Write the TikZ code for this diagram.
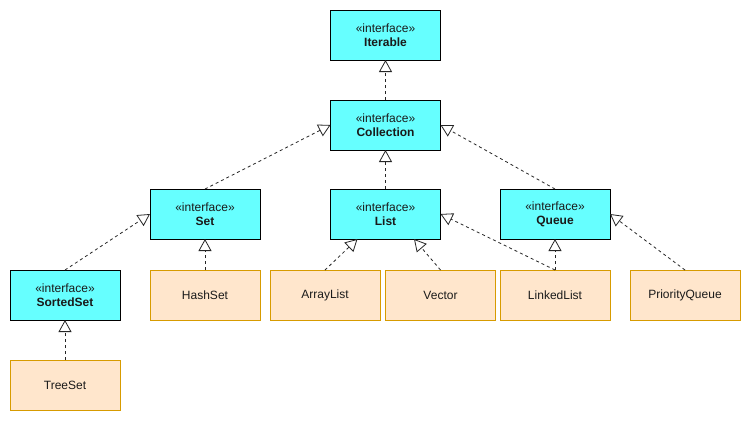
\documentclass[tikz,border=0pt]{standalone}
\usepackage{fontspec}
\setmainfont{Liberation Sans}
\usetikzlibrary{arrows.meta}
\definecolor{ifill}{HTML}{66FFFF}
\definecolor{cfill}{HTML}{FFE6CC}
\definecolor{cdraw}{HTML}{D79B00}
\definecolor{txt}{HTML}{1A1A1A}
\begin{document}
\begin{tikzpicture}[x=1pt,y=-1pt,
  box/.style={rectangle,minimum width=110pt,minimum height=50pt,inner sep=0pt,outer sep=0pt,
    font=\fontsize{12pt}{14pt}\selectfont,text=txt,align=center},
  iface/.style={box,fill=ifill,draw=black,line width=1pt},
  cls/.style={box,fill=cfill,draw=cdraw,line width=1pt},
  impl/.style={draw=black!85,line width=0.8pt,dash pattern=on 3pt off 3pt,
    -{Triangle[open,width=13pt,length=12pt,line width=0.8pt,fill=white]}}
]
\fill[white] (0,0) rectangle (751,421);
\useasboundingbox (0,0) rectangle (751,421);

\node[iface] (iterable)   at (385.5,35)  {«interface»\\\textbf{Iterable}};
\node[iface] (collection) at (385.5,125) {«interface»\\\textbf{Collection}};
\node[iface] (set)        at (205,214)   {«interface»\\\textbf{Set}};
\node[iface] (list)       at (385.5,214) {«interface»\\\textbf{List}};
\node[iface] (queue)      at (555,214)   {«interface»\\\textbf{Queue}};
\node[iface] (sortedset)  at (65,295)    {«interface»\\\textbf{SortedSet}};
\node[cls]   (hashset)    at (205,295)   {HashSet};
\node[cls]   (arraylist)  at (325,295)   {ArrayList};
\node[cls]   (vector)     at (440.5,295) {Vector};
\node[cls]   (linkedlist) at (555,295)   {LinkedList};
\node[cls]   (pqueue)     at (685,295)   {PriorityQueue};
\node[cls]   (treeset)    at (65,385)    {TreeSet};

\draw[impl] (collection.north) -- (iterable.south);
\draw[impl] (set.north) -- (collection.west);
\draw[impl] (list.north) -- (collection.south);
\draw[impl] (queue.north) -- (collection.east);
\draw[impl] (sortedset.north) -- (set.west);
\draw[impl] (hashset.north) -- (set.south);
\draw[impl] (treeset.north) -- (sortedset.south);
\draw[impl] (arraylist.north) -- ([xshift=-28pt]list.south);
\draw[impl] (vector.north) -- ([xshift=28.5pt]list.south);
\draw[impl] (linkedlist.north) -- (list.east);
\draw[impl] (linkedlist.north) -- (queue.south);
\draw[impl] (pqueue.north) -- (queue.east);
\end{tikzpicture}
\end{document}
